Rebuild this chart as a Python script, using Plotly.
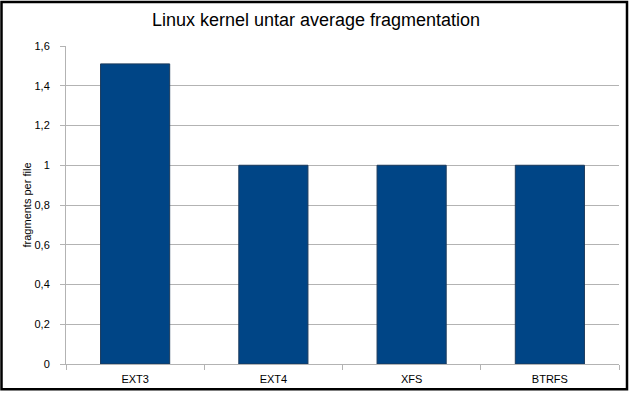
import plotly.graph_objects as go

categories = ["EXT3", "EXT4", "XFS", "BTRFS"]
values = [1.51, 1.0, 1.0, 1.0]

W, H = 633, 397
L, R, T, B = 66, 14, 46, 29
pw, ph = W - L - R, H - T - B

fig = go.Figure(go.Bar(
    x=categories, y=values,
    marker=dict(color="#004586", line=dict(color="#1b3a5c", width=1)),
    width=0.5,
))

def px_to_paper_x(p):
    return (p - L) / pw

def px_to_paper_y(p):
    return (H - B - p) / ph

fig.update_layout(
    width=W, height=H,
    margin=dict(l=L, r=R, t=T, b=B),
    paper_bgcolor="white", plot_bgcolor="white",
    separators=",.",
    font=dict(family="Liberation Sans, Arial, sans-serif", size=11, color="#000000"),
    title=dict(text="Linux kernel untar average fragmentation",
               x=316 / W, xref="container", xanchor="center",
               y=1 - 20 / H, yref="container", yanchor="middle",
               font=dict(size=18, color="#000000")),
    showlegend=False,
    xaxis=dict(
        showgrid=False, showline=True, linecolor="#b3b3b3", linewidth=1,
        ticks="outside", tickson="boundaries", ticklen=5, tickcolor="#b3b3b3",
        tickfont=dict(size=11), ticklabelstandoff=5,
    ),
    yaxis=dict(
        range=[0, 1.6], dtick=0.2, tick0=0,
        showgrid=True, gridcolor="#b3b3b3", gridwidth=1,
        showline=True, linecolor="#b3b3b3", linewidth=1,
        ticks="outside", ticklen=5, tickcolor="#b3b3b3",
        tickfont=dict(size=11), zeroline=False, ticklabelstandoff=8,
        title=dict(text="fragments per file", font=dict(size=11), standoff=0),
    ),
    shapes=[dict(
        type="rect", xref="paper", yref="paper",
        x0=px_to_paper_x(1.5), x1=px_to_paper_x(627),
        y0=px_to_paper_y(393.5), y1=px_to_paper_y(1.5),
        line=dict(color="black", width=2.5), fillcolor="rgba(0,0,0,0)",
        layer="above",
    )],
)

fig.write_html("out.html")
